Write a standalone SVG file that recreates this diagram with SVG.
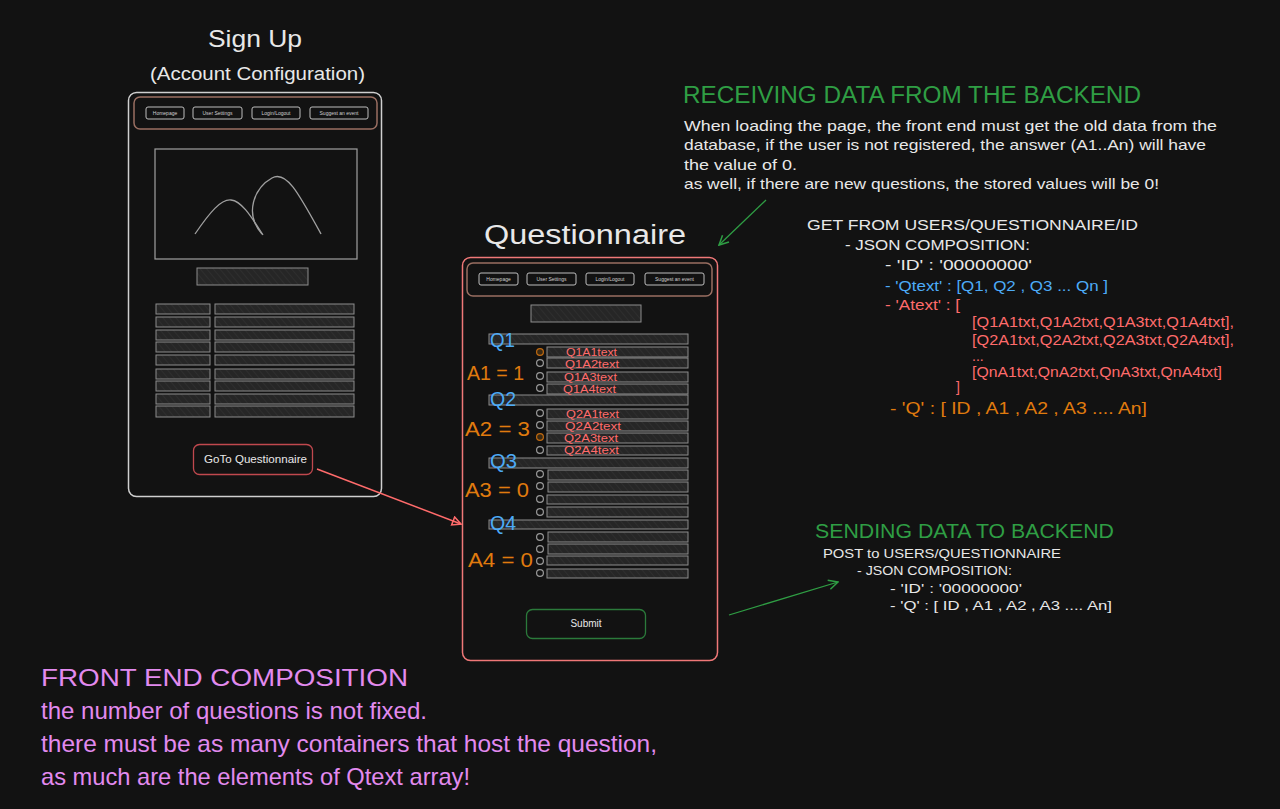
<svg xmlns="http://www.w3.org/2000/svg" width="1280" height="809" viewBox="0 0 1280 809">
<defs>
<pattern id="hatch" width="5" height="5" patternUnits="userSpaceOnUse" patternTransform="rotate(-40)">
<rect width="5" height="5" fill="#262626"/>
<line x1="0" y1="0" x2="0" y2="5" stroke="#333333" stroke-width="1.2"/>
</pattern>
<marker id="arrRed" viewBox="0 0 10 10" refX="9" refY="5" markerWidth="7" markerHeight="7" orient="auto">
<path d="M1,1 L9,5 L1,9 Z" fill="none" stroke="#ff6b6b" stroke-width="1.5"/>
</marker>
<marker id="arrGreen" viewBox="0 0 10 10" refX="9" refY="5" markerWidth="9" markerHeight="9" orient="auto">
<path d="M1,1 L9,5 L1,9" fill="none" stroke="#2f9e44" stroke-width="1.3"/>
</marker>
</defs>
<style>
text{font-family:"Liberation Sans","DejaVu Sans",sans-serif}
.frame{fill:none;stroke:#cfcfcf;stroke-width:1.5}
.qframe{fill:none;stroke:#f07878;stroke-width:1.5}
.nav{fill:none;stroke:#9a6f62;stroke-width:1.5}
.btn{fill:none;stroke:#bdbdbd;stroke-width:1}
.btnt{fill:#cfcfcf;font-size:5px;text-anchor:middle}
.box{fill:url(#hatch);stroke:#8c8c8c;stroke-width:1}
.radio{fill:none;stroke:#9a9a9a;stroke-width:1.2}
.radioOn{fill:#3a2a14;stroke:#c06a10;stroke-width:1.2}
.white{fill:#e8e8e8}
.ql{fill:#4dabf7;font-size:20px}
.al{fill:#e07b0e;font-size:20px}
.at{fill:#ff6b6b;font-size:11px}
.mono{font-size:14px}
.green{fill:#2f9e44}
.red{fill:#ff6b6b}
.blue{fill:#4dabf7}
.orange{fill:#e07b0e}
.mag{fill:#e28aef;font-size:24px}
</style>
<rect width="1280" height="809" fill="#121212"/>

<g id="signup">
<text x="208" y="47" class="white" font-size="24" textLength="94" lengthAdjust="spacingAndGlyphs">Sign Up</text>
<text x="150" y="80" class="white" font-size="18" textLength="215" lengthAdjust="spacingAndGlyphs">(Account Configuration)</text>
<rect x="128.5" y="92.5" width="253" height="404" rx="8" class="frame"/>
<rect x="134" y="97" width="243" height="32" rx="6" class="nav"/>
<rect x="146" y="107" width="38" height="12" rx="2" class="btn"/><text x="165" y="115" class="btnt">Homepage</text>
<rect x="193" y="107" width="49" height="12" rx="2" class="btn"/><text x="217.5" y="115" class="btnt">User Settings</text>
<rect x="252" y="107" width="48" height="12" rx="2" class="btn"/><text x="276" y="115" class="btnt">Login/Logout</text>
<rect x="310" y="107" width="58" height="12" rx="2" class="btn"/><text x="339" y="115" class="btnt">Suggest an event</text>
<rect x="155" y="149" width="202" height="110" fill="none" stroke="#a0a0a0" stroke-width="1.2"/>
<path d="M195,234 C210,212 221,199 231,200 C242,201 252,218 263,235" fill="none" stroke="#a0a0a0" stroke-width="1.3"/>
<path d="M262,234 C244,214 254,188 272,178 C286,170 298,192 321,234" fill="none" stroke="#a0a0a0" stroke-width="1.3"/>
<rect x="197" y="268" width="111" height="17" class="box"/>
<g>
<rect x="156" y="304" width="54" height="10" class="box"/><rect x="215" y="304" width="139" height="10" class="box"/>
<rect x="156" y="317" width="54" height="10" class="box"/><rect x="215" y="317" width="139" height="10" class="box"/>
<rect x="156" y="330" width="54" height="10" class="box"/><rect x="215" y="330" width="139" height="10" class="box"/>
<rect x="156" y="342" width="54" height="10" class="box"/><rect x="215" y="342" width="139" height="10" class="box"/>
<rect x="156" y="355" width="54" height="10" class="box"/><rect x="215" y="355" width="139" height="10" class="box"/>
<rect x="156" y="369" width="54" height="10" class="box"/><rect x="215" y="369" width="139" height="10" class="box"/>
<rect x="156" y="381" width="54" height="10" class="box"/><rect x="215" y="381" width="139" height="10" class="box"/>
<rect x="156" y="394" width="54" height="10" class="box"/><rect x="215" y="394" width="139" height="10" class="box"/>
<rect x="156" y="406" width="54" height="11" class="box"/><rect x="215" y="406" width="139" height="11" class="box"/>
</g>
</g>

<g id="goto-btn">
<rect x="193.5" y="444.5" width="119" height="30" rx="6" fill="none" stroke="#c0484e" stroke-width="1.3"/>
<text x="204" y="463" class="white" font-size="11" textLength="103" lengthAdjust="spacingAndGlyphs">GoTo Questionnaire</text>
</g>

<g id="questionnaire">
<text x="484" y="244" class="white" font-size="27" textLength="202" lengthAdjust="spacingAndGlyphs">Questionnaire</text>
<rect x="462.5" y="257.5" width="255" height="403" rx="8" class="qframe"/>
<rect x="467" y="263" width="245" height="33" rx="6" class="nav"/>
<rect x="479" y="273" width="39" height="12" rx="2" class="btn"/><text x="498.5" y="281" class="btnt">Homepage</text>
<rect x="527" y="273" width="49" height="12" rx="2" class="btn"/><text x="551.5" y="281" class="btnt">User Settings</text>
<rect x="586" y="273" width="48" height="12" rx="2" class="btn"/><text x="610" y="281" class="btnt">Login/Logout</text>
<rect x="645" y="273" width="59" height="12" rx="2" class="btn"/><text x="674.5" y="281" class="btnt">Suggest an event</text>
<rect x="531" y="305" width="110" height="17" class="box"/>

<rect x="489" y="334" width="199" height="10" class="box"/>
<rect x="547" y="347" width="141" height="10" class="box"/><circle cx="540" cy="352" r="3.4" class="radioOn"/>
<rect x="547" y="358" width="141" height="10" class="box"/><circle cx="540" cy="363" r="3.4" class="radio"/>
<rect x="547" y="372" width="141" height="10" class="box"/><circle cx="540" cy="376" r="3.4" class="radio"/>
<rect x="547" y="384" width="141" height="10" class="box"/><circle cx="540" cy="388" r="3.4" class="radio"/>
<rect x="489" y="395" width="199" height="10" class="box"/>
<rect x="547" y="409" width="141" height="10" class="box"/><circle cx="540" cy="413" r="3.4" class="radio"/>
<rect x="547" y="421" width="141" height="10" class="box"/><circle cx="540" cy="425" r="3.4" class="radio"/>
<rect x="547" y="433" width="141" height="10" class="box"/><circle cx="540" cy="437" r="3.4" class="radioOn"/>
<rect x="547" y="446" width="141" height="9" class="box"/><circle cx="540" cy="450" r="3.4" class="radio"/>
<rect x="489" y="458" width="199" height="10" class="box"/>
<rect x="548" y="470" width="140" height="10" class="box"/><circle cx="540" cy="474" r="3.4" class="radio"/>
<rect x="548" y="482" width="140" height="10" class="box"/><circle cx="540" cy="486" r="3.4" class="radio"/>
<rect x="547" y="495" width="141" height="9" class="box"/><circle cx="540" cy="499" r="3.4" class="radio"/>
<rect x="547" y="507" width="141" height="10" class="box"/><circle cx="540" cy="512" r="3.4" class="radio"/>
<rect x="489" y="520" width="199" height="9" class="box"/>
<rect x="548" y="532" width="140" height="10" class="box"/><circle cx="540" cy="537" r="3.4" class="radio"/>
<rect x="548" y="544" width="140" height="10" class="box"/><circle cx="540" cy="549" r="3.4" class="radio"/>
<rect x="547" y="556" width="141" height="9" class="box"/><circle cx="540" cy="561" r="3.4" class="radio"/>
<rect x="547" y="569" width="141" height="9" class="box"/><circle cx="540" cy="573" r="3.4" class="radio"/>

<text x="566" y="356" class="at" textLength="51" lengthAdjust="spacingAndGlyphs">Q1A1text</text>
<text x="565" y="368" class="at" textLength="54" lengthAdjust="spacingAndGlyphs">Q1A2text</text>
<text x="564" y="381" class="at" textLength="53" lengthAdjust="spacingAndGlyphs">Q1A3text</text>
<text x="563" y="393" class="at" textLength="53" lengthAdjust="spacingAndGlyphs">Q1A4text</text>
<text x="566" y="418" class="at" textLength="53" lengthAdjust="spacingAndGlyphs">Q2A1text</text>
<text x="565" y="430" class="at" textLength="56" lengthAdjust="spacingAndGlyphs">Q2A2text</text>
<text x="564" y="442" class="at" textLength="54" lengthAdjust="spacingAndGlyphs">Q2A3text</text>
<text x="564" y="454" class="at" textLength="55" lengthAdjust="spacingAndGlyphs">Q2A4text</text>

<text x="490" y="347" class="ql" textLength="25" lengthAdjust="spacingAndGlyphs">Q1</text>
<text x="490" y="406" class="ql" textLength="26" lengthAdjust="spacingAndGlyphs">Q2</text>
<text x="490" y="468" class="ql" textLength="27" lengthAdjust="spacingAndGlyphs">Q3</text>
<text x="490" y="530" class="ql" textLength="26" lengthAdjust="spacingAndGlyphs">Q4</text>

<text x="467" y="380" class="al" textLength="57" lengthAdjust="spacingAndGlyphs">A1 = 1</text>
<text x="465" y="436" class="al" textLength="65" lengthAdjust="spacingAndGlyphs">A2 = 3</text>
<text x="465" y="497" class="al" textLength="64" lengthAdjust="spacingAndGlyphs">A3 = 0</text>
<text x="468" y="567" class="al" textLength="65" lengthAdjust="spacingAndGlyphs">A4 = 0</text>
</g>

<g id="submit-btn">
<rect x="526.5" y="609.5" width="119" height="29" rx="6" fill="none" stroke="#2b7a3b" stroke-width="1.3"/>
<text x="586" y="627" class="white" font-size="10" text-anchor="middle">Submit</text>
</g>

<g id="receiving">
<text x="683" y="103" class="green" font-size="23" textLength="458" lengthAdjust="spacingAndGlyphs">RECEIVING DATA FROM THE BACKEND</text>
<g class="white" font-size="14.5">
<text x="684" y="131" textLength="533" lengthAdjust="spacingAndGlyphs">When loading the page, the front end must get the old data from the</text>
<text x="684" y="150" textLength="522" lengthAdjust="spacingAndGlyphs">database, if the user is not registered, the answer (A1..An) will have</text>
<text x="684" y="170" textLength="113" lengthAdjust="spacingAndGlyphs">the value of 0.</text>
<text x="684" y="189" textLength="475" lengthAdjust="spacingAndGlyphs">as well, if there are new questions, the stored values will be 0!</text>
</g>
</g>

<g id="get-json">
<text x="807" y="230" class="white mono" textLength="331" lengthAdjust="spacingAndGlyphs">GET FROM USERS/QUESTIONNAIRE/ID</text>
<text x="845" y="250" class="white mono" textLength="185" lengthAdjust="spacingAndGlyphs">- JSON COMPOSITION:</text>
<text x="885" y="270" class="white mono" textLength="147" lengthAdjust="spacingAndGlyphs">- 'ID' : '00000000'</text>
<text x="885" y="291" class="blue mono" textLength="223" lengthAdjust="spacingAndGlyphs">- 'Qtext' : [Q1, Q2 , Q3 ... Qn ]</text>
<text x="885" y="310" class="red mono" textLength="75" lengthAdjust="spacingAndGlyphs">- 'Atext' : [</text>
<text x="972" y="327" class="red mono" textLength="262" lengthAdjust="spacingAndGlyphs">[Q1A1txt,Q1A2txt,Q1A3txt,Q1A4txt],</text>
<text x="972" y="345" class="red mono" textLength="262" lengthAdjust="spacingAndGlyphs">[Q2A1txt,Q2A2txt,Q2A3txt,Q2A4txt],</text>
<text x="972" y="361" class="red mono">...</text>
<text x="972" y="377" class="red mono" textLength="250" lengthAdjust="spacingAndGlyphs">[QnA1txt,QnA2txt,QnA3txt,QnA4txt]</text>
<text x="956" y="392" class="red mono">]</text>
<text x="890" y="414" class="orange" font-size="17" textLength="257" lengthAdjust="spacingAndGlyphs">- 'Q' : [ ID , A1 , A2 , A3 .... An]</text>
</g>

<g id="sending">
<text x="815" y="538" class="green" font-size="20" textLength="299" lengthAdjust="spacingAndGlyphs">SENDING DATA TO BACKEND</text>
<text x="823" y="558" class="white" font-size="13" textLength="238" lengthAdjust="spacingAndGlyphs">POST to USERS/QUESTIONNAIRE</text>
<text x="857" y="575" class="white" font-size="13" textLength="155" lengthAdjust="spacingAndGlyphs">- JSON COMPOSITION:</text>
<text x="890" y="593" class="white" font-size="13" textLength="132" lengthAdjust="spacingAndGlyphs">- 'ID' : '00000000'</text>
<text x="890" y="610" class="white" font-size="13" textLength="222" lengthAdjust="spacingAndGlyphs">- 'Q' : [ ID , A1 , A2 , A3 .... An]</text>
</g>

<g id="front-end-note">
<text x="41" y="686" class="mag" textLength="367" lengthAdjust="spacingAndGlyphs">FRONT END COMPOSITION</text>
<text x="41" y="719" class="mag" textLength="386" lengthAdjust="spacingAndGlyphs">the number of questions is not fixed.</text>
<text x="41" y="752" class="mag" textLength="616" lengthAdjust="spacingAndGlyphs">there must be as many containers that host the question,</text>
<text x="41" y="785" class="mag" textLength="429" lengthAdjust="spacingAndGlyphs">as much are the elements of Qtext array!</text>
</g>

<g id="connectors" fill="none">
<line x1="317" y1="469" x2="461" y2="524" stroke="#ff6b6b" stroke-width="1.5" marker-end="url(#arrRed)"/>
<line x1="766" y1="200" x2="719" y2="245" stroke="#2f9e44" stroke-width="1.3" marker-end="url(#arrGreen)"/>
<line x1="729" y1="615" x2="838" y2="582" stroke="#2f9e44" stroke-width="1.3" marker-end="url(#arrGreen)"/>
</g>
</svg>
